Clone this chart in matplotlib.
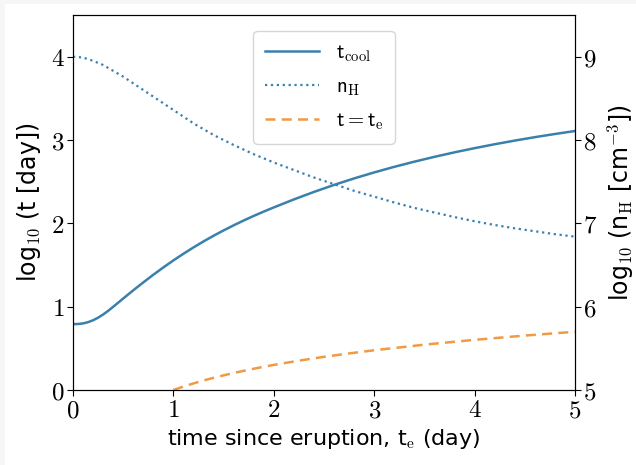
import matplotlib
matplotlib.use("Agg")
import matplotlib.pyplot as plt
from matplotlib.ticker import FuncFormatter
from matplotlib.patches import Rectangle

# data
tc_x = [0.0, 0.05, 0.1, 0.15, 0.2, 0.25, 0.3, 0.35, 0.4, 0.45, 0.5,
        0.6, 0.7, 0.8, 0.9, 1.0,
        1.1, 1.2, 1.3, 1.4, 1.5, 1.6, 1.7, 1.8, 1.9, 2.0,
        2.2, 2.4, 2.6, 2.8, 3.0, 3.2, 3.4, 3.6, 3.8, 4.0,
        4.2, 4.4, 4.6, 4.8, 5.0]
log_tcool = [0.790, 0.792, 0.799, 0.814, 0.837, 0.868, 0.906, 0.950, 0.998, 1.048, 1.098,
             1.196, 1.291, 1.383, 1.471, 1.555,
             1.635, 1.711, 1.783, 1.851, 1.915, 1.976, 2.034, 2.089, 2.141, 2.191,
             2.287, 2.377, 2.461, 2.539, 2.611, 2.678, 2.740, 2.798, 2.852, 2.902,
             2.949, 2.993, 3.034, 3.072, 3.108]
nh_x = [0.0, 0.1, 0.2, 0.3, 0.4, 0.5, 0.6, 0.7, 0.8, 0.9, 1.0,
        1.2, 1.4, 1.6, 1.8, 2.0, 2.2, 2.4, 2.6, 2.8, 3.0,
        3.2, 3.4, 3.6, 3.8, 4.0, 4.2, 4.4, 4.6, 4.8, 5.0]
log_nH = [9.00, 8.99, 8.95, 8.90, 8.83, 8.76, 8.68, 8.60, 8.52, 8.44, 8.36,
          8.20, 8.06, 7.94, 7.83, 7.73, 7.64, 7.55, 7.47, 7.39, 7.32,
          7.25, 7.185, 7.13, 7.075, 7.025, 6.98, 6.94, 6.905, 6.87, 6.84]
te_x = [1.0, 1.1, 1.2, 1.3, 1.4, 1.5, 1.6, 1.7, 1.8, 1.9, 2.0,
        2.25, 2.5, 2.75, 3.0, 3.5, 4.0, 4.5, 5.0]
te_y = [0.0, 0.041, 0.079, 0.114, 0.146, 0.176, 0.204, 0.230, 0.255, 0.279, 0.301,
        0.352, 0.398, 0.439, 0.477, 0.544, 0.602, 0.653, 0.699]

x_ticks = [0, 1, 2, 3, 4, 5]
left_ticks = [0, 1, 2, 3, 4]
right_ticks = [5, 6, 7, 8, 9]

plt.rcParams['mathtext.fontset'] = 'cm'
plt.rcParams['font.family'] = ['DejaVu Sans']

blue = '#3a80ad'
orange = '#ef9a44'

fig = plt.figure(figsize=(6.36, 4.65), dpi=100)
fig.patch.set_facecolor('#f6f6f6')
fig.patches.append(Rectangle((5/636, 0), 1, 1 - 4/465, transform=fig.transFigure,
                             facecolor='white', edgecolor='none', zorder=-10))
ax = fig.add_axes([73/636, 1 - 390/465, (575 - 73)/636, (390 - 15)/465])
ax2 = ax.twinx()

l1, = ax.plot(tc_x, log_tcool, color=blue, lw=1.8, label=r'$\mathsf{t}_{\mathrm{cool}}$')
l3, = ax.plot(te_x, te_y, color=orange, lw=1.8, ls=(0, (4, 2.5)),
              label=r'$\mathsf{t} = \mathsf{t}_{\mathrm{e}}$')
l2, = ax2.plot(nh_x, log_nH, color=blue, lw=1.6, ls=':', label=r'$\mathsf{n}_{\mathrm{H}}$')

ax.set_xlim(0, 5)
ax.set_ylim(0, 4.5)
ax2.set_ylim(5, 9.5)
ax.set_xticks(x_ticks)
ax.set_yticks(left_ticks)
ax2.set_yticks(right_ticks)
fmt = FuncFormatter(lambda v, p: r'$%g$' % v)
for a in (ax, ax2):
    a.yaxis.set_major_formatter(fmt)
    a.tick_params(labelsize=18, length=4, width=0.8, direction='out', pad=2)
ax.xaxis.set_major_formatter(fmt)

ax.set_xlabel(r'time since eruption, t$_{\mathrm{e}}$ (day)', fontsize=16, labelpad=3)
ax.set_ylabel(r'log$_{10}$ (t [day])', fontsize=17, labelpad=6)
ax2.set_ylabel(r'log$_{10}$ (n$_{\mathrm{H}}$ [cm$^{-3}$])', fontsize=17, labelpad=6)

leg = ax.legend([l1, l2, l3], [l1.get_label(), l2.get_label(), l3.get_label()],
                loc='upper center', fontsize=15, frameon=True, borderpad=0.55,
                handlelength=2.6, labelspacing=0.6, bbox_to_anchor=(0.5, 0.985))
leg.get_frame().set_edgecolor('#cccccc')

fig.savefig('out.png', dpi=100, facecolor=fig.get_facecolor())
